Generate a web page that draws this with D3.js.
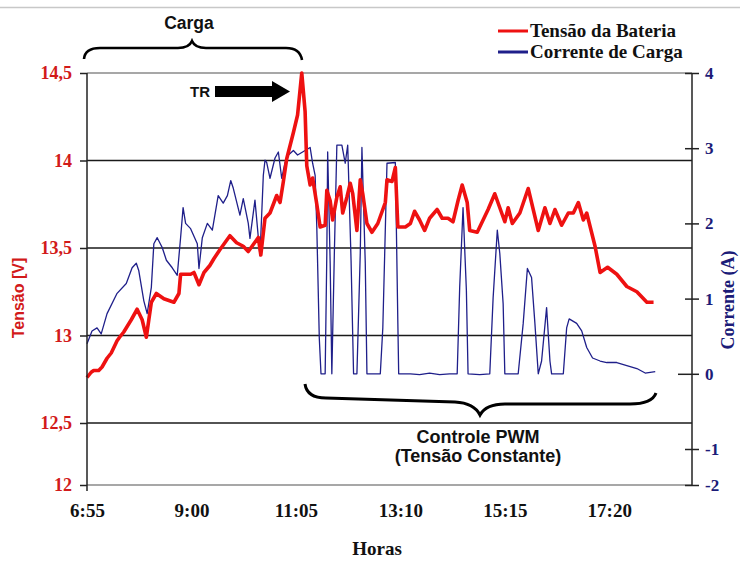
<!DOCTYPE html>
<html><head><meta charset="utf-8">
<script src="https://cdn.jsdelivr.net/npm/d3@7"></script>
<style>
html,body{margin:0;padding:0;background:#fff;}
svg{display:block;}
</style></head>
<body>
<svg id="chart" width="740" height="561"></svg>
<script>
// ---- Data (minutes elapsed since 6:55) ----
const minutosTensao = [0,5,8,14,18,24,29,36,39,44,53,60,66,71,74,77,83,92,104,110,112,124,128,134,140,147,152,159,171,179,187,193,199,205,208,213,219,227,231,235,239,247,252,257,261,263,267,270,275,279,285,287,291,294,299,303,306,311,315,318,323,327,330,335,341,348,357,359,365,369,372,381,387,392,398,404,410,419,425,432,438,444,449,455,458,467,474,480,488,494,500,504,509,518,528,534,540,548,554,560,568,576,582,588,594,598,608,614,623,634,646,658,670,678];
const tensaoBateria = [12.76,12.79,12.80,12.80,12.82,12.87,12.90,12.97,12.99,13.02,13.09,13.15,13.09,12.99,13.09,13.19,13.24,13.21,13.19,13.24,13.35,13.35,13.36,13.29,13.36,13.40,13.44,13.49,13.57,13.53,13.51,13.48,13.52,13.56,13.46,13.67,13.70,13.80,13.76,13.88,14.01,14.16,14.26,14.50,14.28,13.97,13.86,13.90,13.75,13.62,13.63,13.83,13.77,13.66,13.79,13.85,13.70,13.79,13.87,13.81,13.60,13.89,13.81,13.64,13.59,13.64,13.76,13.89,13.88,13.96,13.62,13.62,13.64,13.71,13.66,13.60,13.67,13.72,13.67,13.67,13.65,13.77,13.86,13.76,13.60,13.59,13.66,13.72,13.81,13.73,13.65,13.73,13.64,13.70,13.84,13.72,13.60,13.73,13.64,13.72,13.63,13.70,13.70,13.76,13.66,13.70,13.51,13.36,13.39,13.35,13.28,13.25,13.19,13.19];

const minutosCorrente = [0,6,12,17,24,36,47,54,59,62,68,72,77,80,84,90,95,102,108,112,115,118,124,132,134,138,144,150,157,163,168,172,175,183,187,193,195,201,207,211,213,215,219,225,229,233,237,241,247,252,258,267,270,273,275,278,280,285,287,288,291,293,296,299,305,309,312,316,319,323,327,329,333,335,351,354,359,369,372,373,387,398,410,422,434,443,446,450,454,456,470,482,486,491,494,498,500,516,522,527,532,536,540,544,550,554,556,570,574,577,586,592,598,605,614,622,634,646,658,668,680];
const correnteCarga = [0.40,0.57,0.61,0.53,0.80,1.07,1.20,1.41,1.47,1.37,0.97,0.80,1.15,1.73,1.81,1.68,1.51,1.41,1.31,1.81,2.21,2.00,1.93,1.73,1.40,1.81,2.00,1.91,2.37,2.27,2.37,2.57,2.47,2.11,2.33,2.00,1.80,2.31,1.57,2.64,2.84,2.81,2.60,2.87,2.95,2.60,2.81,2.91,2.97,2.91,2.95,3.01,2.80,2.64,1.95,0.47,0,0,1.60,2.95,1.47,0,1.60,3.04,3.04,2.80,3.04,1.51,0,0,1.60,3.01,1.47,0,0,0.61,2.80,2.81,0.67,0,0,-0.01,0.01,-0.01,0,0,1.15,2.21,1.11,0,-0.01,0,1.01,1.91,1.60,0.93,0,0,0.67,1.40,1.28,0.67,0,0.17,0.88,0.17,0,0,0.61,0.73,0.67,0.57,0.35,0.21,0.17,0.15,0.15,0.11,0.07,0.01,0.03];

const tempoTicks = [0,125,250,375,500,625];
const tempoLabels = ["6:55","9:00","11:05","13:10","15:15","17:20"];
const tensaoTicks = [12,12.5,13,13.5,14,14.5];
const tensaoLabels = ["12","12,5","13","13,5","14","14,5"];
const correnteTicks = [-2,-1,0,1,2,3,4];
const correnteLabels = ["-2","-1","0","1","2","3","4"];
const legendNames = ["Tensão da Bateria","Corrente de Carga"];

// ---- Layout ----
const svg = d3.select("#chart");
const L = 87, R = 692, T = 73, B = 485;
const RED = "#ee1111", REDTXT = "#d21a1a", NAVY = "#1f1f8a", NAVYTXT = "#1c1c78";
const serif = "'Liberation Serif','Times New Roman',serif";
const sans = "'Liberation Sans',Arial,sans-serif";

const x = d3.scaleLinear().domain([0, 724]).range([L, R]);
const yV = d3.scaleLinear().domain([12, 12.5, 14.5]).range([B, 423, T]);
const yC = d3.scaleLinear().domain([-2, -1, 4]).range([B, 449, T]);

// top border of image
svg.append("line").attr("x1",0).attr("x2",740).attr("y1",7.5).attr("y2",7.5)
  .attr("stroke","#c8c8c8").attr("stroke-width",1.5);

// gridlines
svg.append("g").selectAll("line").data(tensaoTicks).join("line")
  .attr("x1", L).attr("x2", R)
  .attr("y1", d => yV(d)).attr("y2", d => yV(d))
  .attr("stroke", d => (d===12||d===14.5) ? "#8a8a8a" : "#1a1a1a")
  .attr("stroke-width", 1.6);

// series
const lineV = d3.line().x((d,i)=>x(minutosTensao[i])).y(d=>yV(d));
const lineC = d3.line().x((d,i)=>x(minutosCorrente[i])).y(d=>yC(d));
svg.append("path").datum(correnteCarga).attr("d", lineC)
  .attr("fill","none").attr("stroke",NAVY).attr("stroke-width",1.3).attr("stroke-linejoin","round");
svg.append("path").datum(tensaoBateria).attr("d", lineV)
  .attr("fill","none").attr("stroke",RED).attr("stroke-width",3.6).attr("stroke-linejoin","round");

// left axis
const gL = svg.append("g").attr("transform",`translate(${L},0)`)
  .call(d3.axisLeft(yV).tickValues(tensaoTicks).tickFormat((d,i)=>tensaoLabels[i]).tickSizeInner(7).tickSizeOuter(0).tickPadding(8));
gL.select(".domain").remove();
gL.selectAll(".tick line").attr("stroke","#222").attr("stroke-width",1.5);
gL.selectAll("text").attr("fill",REDTXT).style("font-family",serif).style("font-weight","bold").style("font-size","18px");
svg.append("line").attr("x1",L).attr("x2",L).attr("y1",T).attr("y2",B+6).attr("stroke","#222").attr("stroke-width",1.5);

// right axis
const gR = svg.append("g").attr("transform",`translate(${R},0)`)
  .call(d3.axisRight(yC).tickValues(correnteTicks).tickFormat((d,i)=>correnteLabels[i]).tickSizeInner(7).tickSizeOuter(0).tickPadding(6));
gR.select(".domain").remove();
gR.selectAll(".tick line").attr("x1", d => d===0 ? -14 : -7).attr("stroke","#222").attr("stroke-width",1.5);
gR.selectAll("text").attr("fill",NAVYTXT).style("font-family",serif).style("font-weight","bold").style("font-size","17px");
svg.append("line").attr("x1",R).attr("x2",R).attr("y1",T).attr("y2",B).attr("stroke","#222").attr("stroke-width",1.5);

// bottom axis
const gB = svg.append("g").attr("transform",`translate(0,${B})`)
  .call(d3.axisBottom(x).tickValues(tempoTicks).tickFormat((d,i)=>tempoLabels[i]).tickSize(0).tickPadding(19));
gB.select(".domain").remove();
gB.selectAll("text").attr("fill","#111").style("font-family",serif).style("font-weight","bold").style("font-size","19px");

// axis titles
svg.append("text").attr("x",377).attr("y",555).attr("text-anchor","middle")
  .style("font-family",serif).style("font-weight","bold").style("font-size","19px").attr("fill","#111").text("Horas");
svg.append("text").attr("transform","translate(24,298) rotate(-90)").attr("text-anchor","middle")
  .style("font-family",sans).style("font-weight","bold").style("font-size","16px").attr("fill",REDTXT).text("Tensão [V]");
svg.append("text").attr("transform","translate(734,300) rotate(-90)").attr("text-anchor","middle")
  .style("font-family",serif).style("font-weight","bold").style("font-size","18px").attr("fill",NAVYTXT).text("Corrente (A)");

// legend
const legColors = [RED, NAVY];
const legY = [31, 52];
legendNames.forEach((n,i)=>{
  svg.append("line").attr("x1",498).attr("x2",528).attr("y1",legY[i]).attr("y2",legY[i])
    .attr("stroke",legColors[i]).attr("stroke-width",3);
  svg.append("text").attr("x",530).attr("y",legY[i]+6)
    .style("font-family",serif).style("font-weight","bold").style("font-size","19px").attr("fill","#111").text(n);
});

// annotations
svg.append("text").attr("x",189).attr("y",29).attr("text-anchor","middle")
  .style("font-family",sans).style("font-weight","bold").style("font-size","17.5px").attr("fill","#111").text("Carga");
svg.append("path").attr("d","M84,59 Q85,48 100,48 L178,48 Q189,48 192,41 Q195,48 206,48 L286,48 Q300,48 302,60")
  .attr("fill","none").attr("stroke","#000").attr("stroke-width",2.6);
svg.append("text").attr("x",200).attr("y",97).attr("text-anchor","middle")
  .style("font-family",sans).style("font-weight","bold").style("font-size","15px").attr("fill","#111").text("TR");
svg.append("path").attr("d","M215,86 L272,86 L272,81 L290,91.5 L272,102 L272,97 L215,97 Z").attr("fill","#000");

svg.append("path").attr("d","M305,384 Q307,398 326,398 L455,402 Q474,403 480,415 Q486,404 505,404 L630,404 Q652,404 656,393")
  .attr("fill","none").attr("stroke","#000").attr("stroke-width",3);
svg.append("text").attr("x",478).attr("y",443).attr("text-anchor","middle")
  .style("font-family",sans).style("font-weight","bold").style("font-size","18px").attr("fill","#111").text("Controle PWM");
svg.append("text").attr("x",478).attr("y",462).attr("text-anchor","middle")
  .style("font-family",sans).style("font-weight","bold").style("font-size","18px").attr("fill","#111").text("(Tensão Constante)");
</script>
</body></html>
